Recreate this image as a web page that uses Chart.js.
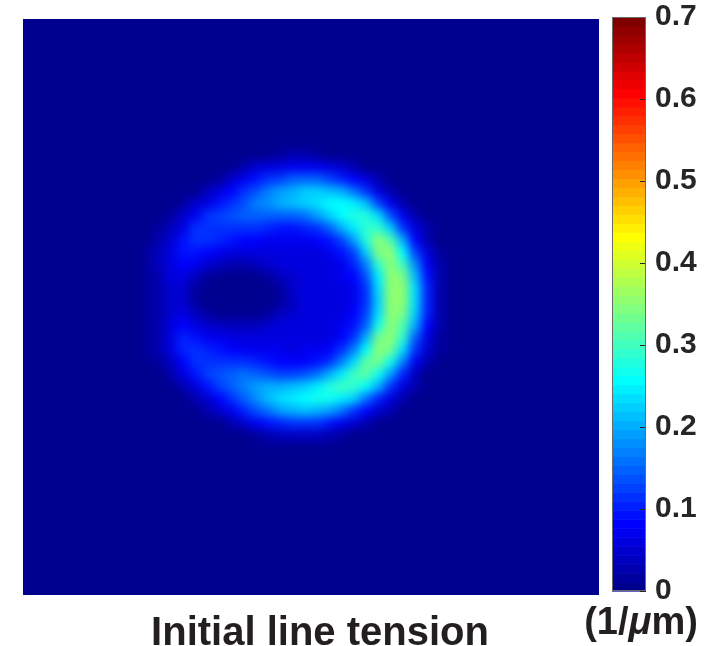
<!DOCTYPE html>
<html>
<head>
<meta charset="utf-8">
<script src="https://cdn.jsdelivr.net/npm/chart.js@4.4.0/dist/chart.umd.min.js"></script>
<style>
  body { margin: 0; background: #fff; width: 704px; height: 646px; position: relative; overflow: hidden; }
  #mapBox { position: absolute; left: 23px; top: 19px; width: 576px; height: 576px; background: #00008f; overflow: hidden; }
  #mapCanvas { filter: blur(5px); }
  #barCanvas { position: absolute; left: 0; top: 0; }
  .label { position: absolute; font-family: "Liberation Sans", Arial, sans-serif; font-weight: bold; color: #231f20; white-space: nowrap; }
  #title { left: 120px; width: 400px; text-align: center; top: 611px; font-size: 40px; line-height: 40px; }
  #unit { left: 580px; width: 122px; text-align: center; top: 602px; font-size: 38px; line-height: 38px; }
</style>
</head>
<body>
<div id="mapBox"><canvas id="mapCanvas" width="576" height="576"></canvas></div>
<canvas id="barCanvas" width="704" height="646"></canvas>
<div id="title" class="label"></div>
<div id="unit" class="label"></div>
<script>
// the map is a 48 x 48 grid; only the block that holds the crescent is listed,
// everything outside it is 0
const gridSize = 48;
const firstCol = 10;
const firstRow = 11;
// part of the grid that is shown in the square
const mapX = [1.1, 46.8];
const mapY = [1.2, 46.9];

// line tension (1/um), rows from top to bottom, 25 columns each
const tension = [
  [0,0,0,0,0,0,0,0,0,.01,.01,.02,.025,.025,.02,.01,.01,0,0,0,0,0,0,0,0],
  [0,0,0,0,0,0,.01,.01,.025,.045,.055,.065,.075,.075,.07,.06,.045,.025,.01,0,0,0,0,0,0],
  [0,0,0,0,0,.01,.02,.045,.07,.09,.11,.13,.15,.15,.15,.13,.10,.08,.055,.025,.01,0,0,0,0],
  [0,0,0,.01,.01,.035,.06,.08,.12,.14,.17,.19,.205,.22,.22,.21,.20,.16,.11,.065,.03,.01,0,0,0],
  [0,0,.01,.02,.045,.06,.09,.12,.14,.17,.18,.20,.21,.22,.24,.26,.26,.25,.21,.13,.075,.03,.01,0,0],
  [0,.01,.02,.045,.07,.11,.13,.14,.15,.15,.15,.15,.15,.16,.19,.22,.26,.28,.28,.23,.14,.075,.03,.01,0],
  [.01,.02,.035,.06,.11,.12,.12,.12,.12,.11,.10,.095,.09,.10,.12,.15,.20,.25,.29,.29,.22,.12,.055,.025,.01],
  [.01,.03,.05,.09,.11,.11,.10,.09,.08,.08,.075,.07,.07,.07,.08,.09,.13,.19,.28,.35,.31,.20,.08,.03,.01],
  [.02,.035,.06,.09,.095,.08,.07,.065,.065,.065,.065,.065,.065,.065,.065,.07,.09,.13,.22,.34,.35,.26,.13,.055,.015],
  [.02,.035,.06,.085,.07,.05,.04,.03,.03,.04,.045,.06,.065,.065,.065,.065,.07,.10,.17,.29,.36,.30,.18,.07,.025],
  [.02,.03,.055,.06,.04,.02,.01,.01,.01,.01,.02,.035,.05,.065,.065,.065,.07,.08,.14,.25,.36,.34,.21,.09,.025],
  [.02,.03,.05,.05,.02,.01,.01,.01,.01,.01,.01,.02,.045,.06,.065,.065,.065,.075,.12,.23,.35,.35,.23,.10,.025],
  [.02,.03,.05,.05,.02,.01,.01,.01,.01,.01,.01,.02,.04,.06,.065,.065,.065,.075,.12,.22,.35,.35,.23,.105,.025],
  [.02,.03,.05,.06,.04,.02,.01,.01,.01,.01,.02,.035,.05,.065,.065,.065,.065,.08,.13,.24,.36,.34,.22,.10,.025],
  [.02,.03,.06,.08,.065,.05,.04,.035,.035,.04,.05,.06,.065,.065,.065,.065,.07,.09,.15,.27,.36,.31,.20,.08,.025],
  [.02,.03,.06,.10,.09,.075,.07,.065,.065,.065,.065,.065,.065,.065,.065,.065,.08,.11,.20,.33,.36,.29,.15,.065,.02],
  [.015,.03,.055,.10,.11,.10,.09,.08,.075,.07,.07,.07,.065,.07,.07,.08,.11,.17,.26,.35,.33,.23,.11,.045,.015],
  [.01,.02,.04,.08,.12,.12,.12,.11,.11,.10,.09,.08,.08,.085,.095,.12,.17,.24,.32,.33,.27,.17,.07,.025,.01],
  [0,.01,.025,.055,.09,.13,.14,.15,.16,.15,.14,.13,.13,.14,.16,.20,.25,.30,.32,.27,.19,.10,.035,.01,0],
  [0,0,.01,.025,.06,.095,.13,.15,.17,.19,.20,.20,.21,.22,.25,.28,.30,.29,.26,.20,.11,.055,.025,.01,0],
  [0,0,0,.01,.025,.05,.08,.12,.15,.18,.21,.23,.25,.26,.27,.27,.25,.22,.16,.10,.055,.025,.01,0,0],
  [0,0,0,0,.01,.025,.045,.07,.10,.14,.16,.19,.20,.21,.20,.19,.16,.12,.08,.045,.025,.01,0,0,0],
  [0,0,0,0,0,0,.01,.025,.045,.07,.09,.105,.115,.115,.11,.095,.07,.05,.025,.01,0,0,0,0,0],
  [0,0,0,0,0,0,0,0,.01,.02,.03,.035,.035,.035,.035,.03,.02,.01,0,0,0,0,0,0,0]
];

// colour bar
const cbarMin = 0;
const cbarMax = 0.7;
const cbarTicks = [0, 0.1, 0.2, 0.3, 0.4, 0.5, 0.6, 0.7];
const cbarLabels = ["0", "0.1", "0.2", "0.3", "0.4", "0.5", "0.6", "0.7"];
const titleText = "Initial line tension";
const unitHtml = "(1/<i>\u03bc</i>m)";

const levels = 64;

// MATLAB jet(64)
function jetPart(k) {
    if (k < 1 || k > 47) return 0;
    if (k <= 16) return k / 16;
    if (k <= 31) return 1;
    return (48 - k) / 16;
}
function jet(j) {
    const i = j + 1;
    const r = jetPart(i - 24), g = jetPart(i - 8), b = jetPart(i + 8);
    return `rgb(${Math.round(r * 255)},${Math.round(g * 255)},${Math.round(b * 255)})`;
}
function colorFor(v) {
    const j = Math.floor((v - cbarMin) / (cbarMax - cbarMin) * levels);
    return jet(Math.max(0, Math.min(levels - 1, j)));
}

const points = [], colors = [];
tension.forEach((row, r) => {
    row.forEach((v, c) => {
        points.push({ x: firstCol + c + 0.5, y: gridSize - (firstRow + r) - 0.5 });
        colors.push(colorFor(v));
    });
});

const cellPx = 576 / (mapX[1] - mapX[0]);

new Chart(document.getElementById("mapCanvas"), {
    type: "scatter",
    data: {
        datasets: [{
            data: points,
            pointStyle: "rect",
            pointRadius: cellPx / Math.SQRT2 + 0.4,
            pointBorderWidth: 0,
            pointBackgroundColor: colors
        }]
    },
    options: {
        responsive: false,
        animation: false,
        events: [],
        layout: { padding: 0 },
        plugins: { legend: { display: false }, tooltip: { enabled: false } },
        scales: {
            x: { type: "linear", min: mapX[0], max: mapX[1], display: false },
            y: { type: "linear", min: mapY[0], max: mapY[1], display: false }
        }
    }
});

const colorbarPlugin = {
    id: "colorbar",
    beforeDatasetsDraw(chart) {
        const { ctx, chartArea: a, scales: { y } } = chart;
        ctx.save();
        for (let j = 0; j < levels; j++) {
            const top = y.getPixelForValue(cbarMin + (j + 1) * (cbarMax - cbarMin) / levels);
            const bot = y.getPixelForValue(cbarMin + j * (cbarMax - cbarMin) / levels);
            ctx.fillStyle = jet(j);
            ctx.fillRect(a.left, top, a.right - a.left, bot - top + 0.6);
        }
        ctx.strokeStyle = "#262626";
        ctx.lineWidth = 1;
        cbarTicks.forEach(v => {
            const py = Math.round(y.getPixelForValue(v)) + 0.5;
            ctx.beginPath();
            ctx.moveTo(a.right - 6, py);
            ctx.lineTo(a.right, py);
            ctx.stroke();
        });
        ctx.strokeStyle = "#6a6a6a";
        ctx.strokeRect(a.left + 0.5, a.top + 0.5, a.right - a.left - 1, a.bottom - a.top - 1);
        ctx.restore();
    }
};

new Chart(document.getElementById("barCanvas"), {
    type: "scatter",
    data: { datasets: [{ data: [] }] },
    options: {
        responsive: false,
        animation: false,
        events: [],
        layout: { padding: { left: 612, right: 0, top: 17, bottom: 55 } },
        plugins: { legend: { display: false }, tooltip: { enabled: false } },
        scales: {
            x: { type: "linear", min: 0, max: 1, display: false },
            y: {
                type: "linear",
                position: "right",
                min: cbarMin,
                max: cbarMax,
                afterBuildTicks: s => { s.ticks = cbarTicks.map(v => ({ value: v })); },
                afterFit: s => { s.width = 58; s.paddingTop = 0; s.paddingBottom = 0; },
                grid: { display: false },
                border: { display: false },
                ticks: {
                    padding: 1,
                    color: "#262626",
                    font: { family: "'Liberation Sans', Arial, sans-serif", weight: "bold", size: 30 },
                    callback: (v, i) => cbarLabels[i]
                }
            }
        }
    },
    plugins: [colorbarPlugin]
});

document.getElementById("title").textContent = titleText;
document.getElementById("unit").innerHTML = unitHtml;
</script>
</body>
</html>
